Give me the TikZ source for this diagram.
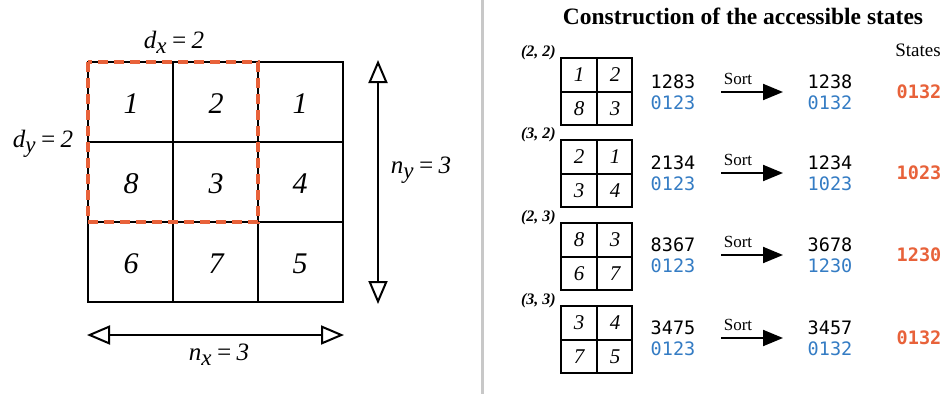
\documentclass[tikz,border=0pt]{standalone}
\usepackage{fontspec}
\setmainfont{Liberation Serif}
\newfontfamily\monof{DejaVu Sans Mono}
\usetikzlibrary{arrows.meta}
\definecolor{orng}{RGB}{232,98,58}
\definecolor{blu}{RGB}{52,124,196}
\definecolor{divgray}{RGB}{200,200,200}
\tikzset{
  gridline/.style={line width=2pt, black},
  bignum/.style={font=\fontsize{30}{30}\selectfont\itshape, inner sep=0pt},
  smallnum/.style={font=\fontsize{21}{21}\selectfont\itshape, inner sep=0pt},
  coordlbl/.style={font=\fontsize{16}{16}\selectfont\itshape\bfseries, inner sep=0pt},
  dimlbl/.style={font=\fontsize{25}{25}\selectfont\itshape, inner sep=0pt},
  seqblack/.style={font=\fontsize{18.5}{18.5}\selectfont\monof, inner sep=0pt, black},
  seqblue/.style={font=\fontsize{18.5}{18.5}\selectfont\monof, inner sep=0pt, text=blu},
  stateorange/.style={font=\fontsize{18.5}{18.5}\selectfont\monof\bfseries, inner sep=0pt, text=orng},
  sortlbl/.style={font=\fontsize{17}{17}\selectfont, inner sep=0pt},
  sortarrow/.style={line width=2pt, -{Triangle[length=20pt,width=16pt]}},
  dblarrow/.style={line width=2pt, {Triangle[open,length=23pt,width=19pt,line width=2pt]}-{Triangle[open,length=23pt,width=19pt,line width=2pt]}}
}
\newcommand{\sbx}[1]{\raisebox{-5pt}{\fontsize{23}{23}\selectfont #1}}
\begin{document}
\begin{tikzpicture}[x=1pt,y=-1pt]
\useasboundingbox (0,0) rectangle (946,394);
\fill[white] (0,0) rectangle (946,394);
% big grid
\draw[gridline] (88,62) rectangle (343,302);
\draw[gridline] (173,62) -- (173,302);
\draw[gridline] (258,62) -- (258,302);
\draw[gridline] (88,142) -- (343,142);
\draw[gridline] (88,222) -- (343,222);
\draw[orng, line width=3.2pt, dash pattern=on 10pt off 6pt] (88,62) rectangle (258,222);
\node[bignum] (c11) at (131,104) {1};
\node[bignum] (c12) at (216,104) {2};
\node[bignum] (c13) at (300,104) {1};
\node[bignum] (c21) at (131,184) {8};
\node[bignum] (c22) at (216,184) {3};
\node[bignum] (c23) at (300,184) {4};
\node[bignum] (c31) at (131,264) {6};
\node[bignum] (c32) at (216,264) {7};
\node[bignum] (c33) at (300,264) {5};
\node[dimlbl] (dx) at (174,42) {d\sbx{x}\,=\,2};
\node[dimlbl] (dy) at (43,144) {d\sbx{y}\,=\,2};
\node[dimlbl] (ny) at (421,170) {n\sbx{y}\,=\,3};
\node[dimlbl] (nx) at (219,355) {n\sbx{x}\,=\,3};
\coordinate (vt) at (378,60);
\coordinate (vb) at (378,304);
\coordinate (hl) at (87,335);
\coordinate (hr) at (344,335);
\draw[dblarrow] (vt) -- (vb);
\draw[dblarrow] (hl) -- (hr);
% divider
\draw[divgray, line width=3pt] (482,0) -- (482,394);
% right panel
\node[font=\fontsize{23.5}{23.5}\selectfont\bfseries, inner sep=0pt] (title) at (743,16) {Construction of the accessible states};
\node[font=\fontsize{19}{19}\selectfont, inner sep=0pt] (states) at (918,50) {States};
\foreach \i/\ya/\yb/\yc/\yd/\lab/\before/\after/\rank/\srank/\st in {
 1/58/82/103/92/{(2, 2)}/1283/1238/0123/0132/0132,
 2/140/163/184/173/{(3, 2)}/2134/1234/0123/1023/1023,
 3/223/245/266/255/{(2, 3)}/8367/3678/0123/1230/1230,
 4/306/328/349/338/{(3, 3)}/3475/3457/0123/0132/0132}{
  \draw[gridline] (561,\ya) rectangle (632,\ya+67);
  \draw[gridline] (597,\ya) -- (597,\ya+67);
  \draw[gridline] (561,\ya+33.5) -- (632,\ya+33.5);
  \node[coordlbl, anchor=east] (lab\i) at (556,\ya-5) {\lab};
  \node[seqblack] (bef\i) at (673,\yb) {\before};
  \node[seqblue] (rk\i) at (673,\yc) {\rank};
  \node[seqblack] (aft\i) at (830,\yb) {\after};
  \node[seqblue] (srk\i) at (830,\yc) {\srank};
  \node[sortlbl] (sort\i) at (738,\yd-13) {Sort};
  \coordinate (as\i) at (721,\yd);
  \coordinate (ae\i) at (783,\yd);
  \draw[sortarrow] (as\i) -- (ae\i);
  \node[stateorange] (st\i) at (919,\yd) {\st};
}
\node[smallnum] (s1a) at (579,75) {1};
\node[smallnum] (s1b) at (615,75) {2};
\node[smallnum] (s1c) at (579,109) {8};
\node[smallnum] (s1d) at (615,109) {3};
\node[smallnum] (s2a) at (579,157) {2};
\node[smallnum] (s2b) at (615,157) {1};
\node[smallnum] (s2c) at (579,191) {3};
\node[smallnum] (s2d) at (615,191) {4};
\node[smallnum] (s3a) at (579,240) {8};
\node[smallnum] (s3b) at (615,240) {3};
\node[smallnum] (s3c) at (579,274) {6};
\node[smallnum] (s3d) at (615,274) {7};
\node[smallnum] (s4a) at (579,323) {3};
\node[smallnum] (s4b) at (615,323) {4};
\node[smallnum] (s4c) at (579,357) {7};
\node[smallnum] (s4d) at (615,357) {5};
\end{tikzpicture}
\end{document}
